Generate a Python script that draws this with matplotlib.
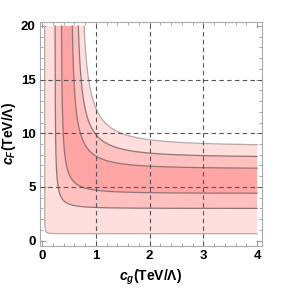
import numpy as np
import matplotlib
matplotlib.use("Agg")
import matplotlib.pyplot as plt

# contour boundaries (inner -> outer): vertical asymptote in c_g, horizontal asymptote in c_F
cg_asym = [0.045, 0.237, 0.351, 0.528, 0.62, 0.70]
cF_asym = [0.65, 3.0, 4.4, 6.69, 7.75, 8.8]
band_colors = ['#ffdede', '#ffc0c0', '#ffa5a5', '#ffc0c0', '#ffdede']
line_colors = ['#b8a8a8', '#907474', '#907474', '#907474', '#907474', '#b8a8a8']

cg_max, cF_max = 4.0, 20.0

plt.rcParams['mathtext.fontset'] = 'custom'
plt.rcParams['mathtext.rm'] = 'Liberation Sans:bold'
plt.rcParams['mathtext.it'] = 'Liberation Sans:italic:bold'
plt.rcParams['font.family'] = 'Liberation Sans'
plt.rcParams['font.weight'] = 'bold'


def curve(a, b):
    x_top = a / np.sqrt(1 - (b / cF_max) ** 2)
    t = np.linspace(0, 1, 600)
    x = x_top + (cg_max - x_top) * t ** 3
    y = b / np.sqrt(1 - (a / x) ** 2)
    y[0] = cF_max
    return x, y


curves = [curve(a, b) for a, b in zip(cg_asym, cF_asym)]

fig = plt.figure(figsize=(2.83, 2.88), dpi=100)
ax = fig.add_axes([0.141, 0.147, 0.785, 0.778])

for i in range(len(curves) - 1):
    xi, yi = curves[i]
    xo, yo = curves[i + 1]
    px = np.concatenate([xo, xi[::-1]])
    py = np.concatenate([yo, yi[::-1]])
    ax.fill(px, py, color=band_colors[i], lw=0, zorder=1)

for (x, y), c in zip(curves, line_colors):
    ax.plot(x, y, color=c, lw=0.9, zorder=2)

for v in [1, 2, 3]:
    ax.axvline(v, color='#555555', lw=0.8, dashes=(4, 3), zorder=3)
for v in [5, 10, 15]:
    ax.axhline(v, color='#555555', lw=0.8, dashes=(4, 3), zorder=3)

ax.set_xlim(-0.043, 4.093)
ax.set_ylim(-0.466, 20.40)
ax.set_xticks([0, 1, 2, 3, 4])
ax.set_yticks([0, 5, 10, 15, 20])
ax.set_xticks(np.arange(0, 4.01, 0.2), minor=True)
ax.set_yticks(np.arange(0, 20.01, 1), minor=True)
ax.tick_params(which='both', direction='in', top=True, right=True, color='#999999',
               labelsize=9.5, pad=3)
ax.tick_params(which='major', length=4, width=0.7)
ax.tick_params(which='minor', length=2, width=0.6)
for s in ax.spines.values():
    s.set_color('#aaaaaa')
    s.set_linewidth(0.8)

ax.set_xlabel(r'$c_g\mathrm{(TeV/\Lambda)}$', fontsize=10, labelpad=4)
ax.set_ylabel(r'$c_F\mathrm{(TeV/\Lambda)}$', fontsize=10, labelpad=2)

fig.savefig('out.png', dpi=100)
